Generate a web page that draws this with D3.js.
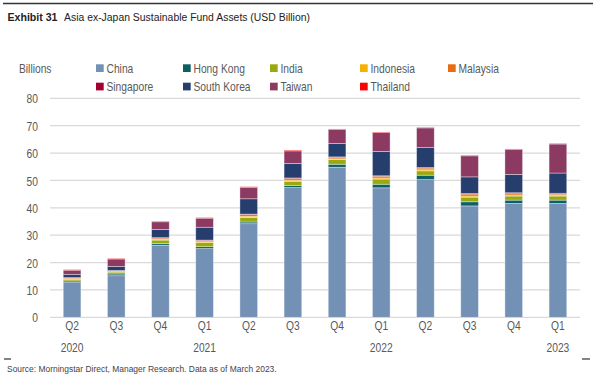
<!DOCTYPE html>
<html><head><meta charset="utf-8">
<script src="https://cdn.jsdelivr.net/npm/d3@7"></script>
<style>
body{margin:0;background:#fff;}
svg{display:block;}
text{font-family:"Liberation Sans",Arial,sans-serif;}
</style></head><body>
<svg id="c" width="596" height="379"></svg>
<script>
const quarters = ["Q2","Q3","Q4","Q1","Q2","Q3","Q4","Q1","Q2","Q3","Q4","Q1"];
const years    = ["2020","","","2021","","","","2022","","","","2023"];
const seriesNames = ["China","Hong Kong","India","Indonesia","Malaysia","Singapore","South Korea","Taiwan","Thailand"];
const seriesColors = ["#7390b5","#0c5f63","#9aaa0e","#f5b000","#eb6a14","#a4002f","#263e6d","#8c3a62","#ff0000"];
const china     = [12.9,15.2,26.3,25.1,34.2,47.4,54.8,47.3,50.3,40.7,41.6,41.6];
const hongKong  = [0.4,0.6,0.6,0.7,0.6,0.7,1.1,1.3,1.6,1.5,1.2,1.2];
const india     = [0.6,0.7,1.3,1.5,1.7,1.6,1.7,1.9,1.6,1.7,1.5,1.5];
const indonesia = [0.2,0.2,0.3,0.3,0.4,0.4,0.3,0.4,0.4,0.4,0.4,0.3];
const malaysia  = [0.3,0.3,0.4,0.4,0.6,0.6,0.5,0.6,0.6,0.7,0.5,0.4];
const singapore = [0.1,0.1,0.2,0.2,0.2,0.2,0.2,0.2,0.2,0.2,0.3,0.3];
const southKorea= [1.2,1.5,3.0,4.7,5.6,5.3,4.9,8.9,7.3,6.1,6.7,7.4];
const taiwan    = [1.5,2.7,2.8,3.3,4.1,4.6,5.1,6.9,7.2,7.7,9.1,10.6];
const thailand  = [0.2,0.2,0.2,0.2,0.3,0.3,0.2,0.2,0.2,0.2,0.2,0.2];
const yTicks = [0,10,20,30,40,50,60,70,80];

const seriesValues = [china,hongKong,india,indonesia,malaysia,singapore,southKorea,taiwan,thailand];
const rows = quarters.map((q,i)=>{const r={idx:i};seriesNames.forEach((s,j)=>r[s]=seriesValues[j][i]);return r;});

const svg = d3.select("#c");
const W=596,H=379;
const SX = 0.79, FS = 13, TXT="#595959";
const x = d3.scaleBand().domain(d3.range(quarters.length)).range([50,580]).paddingInner(0.6).paddingOuter(0.3);
const y = d3.scaleLinear().domain([0,80]).range([317.3,98.3]);

function ctext(px,py,str,opts={}){
  const t = svg.append("text").attr("transform",`translate(${px},${py}) scale(${opts.sx||SX},1)`)
    .attr("font-size",opts.fs||FS).attr("fill",opts.fill||TXT).attr("text-anchor",opts.anchor||"start")
    .attr("font-weight",opts.fw||"normal").text(str);
  return t;
}
function fitText(px,py,str,width,opts={}){
  const t = svg.append("text").attr("font-size",opts.fs||FS).attr("fill",opts.fill||TXT)
    .attr("font-weight",opts.fw||"normal").text(str);
  const w = t.node().getComputedTextLength();
  t.attr("transform",`translate(${px},${py}) scale(${width/w},1)`);
  return t;
}

// top rule
svg.append("line").attr("x1",3).attr("x2",593).attr("y1",3.5).attr("y2",3.5).attr("stroke","#333").attr("stroke-width",1.5);
// title
fitText(7.5,21,"Exhibit 31",50,{fs:11.5,fw:"bold",fill:"#222"});
fitText(64,21,"Asia ex-Japan Sustainable Fund Assets (USD Billion)",246,{fs:11.5,fill:"#222"});

// gridlines
svg.append("g").selectAll("line").data(yTicks).join("line")
  .attr("x1",50).attr("x2",580).attr("y1",d=>y(d)).attr("y2",d=>y(d))
  .attr("stroke","#d9d9d9").attr("stroke-width",1.3);
// y axis labels
const yAxis = d3.axisLeft(y).tickValues(yTicks).tickSize(0).tickPadding(0);
const ya = svg.append("g").attr("transform","translate(38,0)").call(yAxis);
ya.select(".domain").remove();
ya.selectAll("text").attr("font-size",FS).attr("fill",TXT).attr("dy","0.36em")
  .attr("transform",`scale(${SX},1)`).style("font-family",'"Liberation Sans",Arial,sans-serif');

ctext(19,72.7,"Billions");

// bars
const stack = d3.stack().keys(seriesNames)(rows);
svg.append("g").selectAll("g").data(stack).join("g").attr("fill",(d,i)=>seriesColors[i])
  .selectAll("rect").data(d=>d).join("rect")
  .attr("x",d=>x(d.data.idx)).attr("width",x.bandwidth())
  .attr("y",d=>y(d[1])).attr("height",d=>y(d[0])-y(d[1]))
  .attr("stroke","rgba(255,255,255,0.45)").attr("stroke-width",0.8);

// x axis labels
const xAxis = d3.axisBottom(x).tickSize(0).tickPadding(0).tickFormat(i=>quarters[i]);
const xa = svg.append("g").attr("transform","translate(0,321)").call(xAxis);
xa.select(".domain").remove();
xa.selectAll("text").attr("font-size",FS).attr("fill",TXT).attr("dy","0.71em")
  .attr("transform",`scale(${SX},1)`).style("font-family",'"Liberation Sans",Arial,sans-serif');
years.forEach((yr,i)=>{ if(yr) ctext(x(i)+x.bandwidth()/2,352,yr,{anchor:"middle"}); });

// legend
const legX = [96,183,270,360,448];
seriesNames.forEach((s,i)=>{
  const col=i%5,row=Math.floor(i/5);
  const lx=legX[col], ly=68.2+row*18.4;
  svg.append("rect").attr("x",lx).attr("y",ly-3.9).attr("width",7.7).attr("height",7.7).attr("fill",seriesColors[i]);
  ctext(lx+10.5,ly+4.6,s);
});

// footer
svg.append("line").attr("x1",4).attr("x2",11).attr("y1",359).attr("y2",359).attr("stroke","#333").attr("stroke-width",1.2);
svg.append("line").attr("x1",582).attr("x2",590).attr("y1",359).attr("y2",359).attr("stroke","#333").attr("stroke-width",1.2);
fitText(7,372,"Source: Morningstar Direct, Manager Research. Data as of March 2023.",270,{fs:9.5,fill:"#444"});
</script></body></html>
